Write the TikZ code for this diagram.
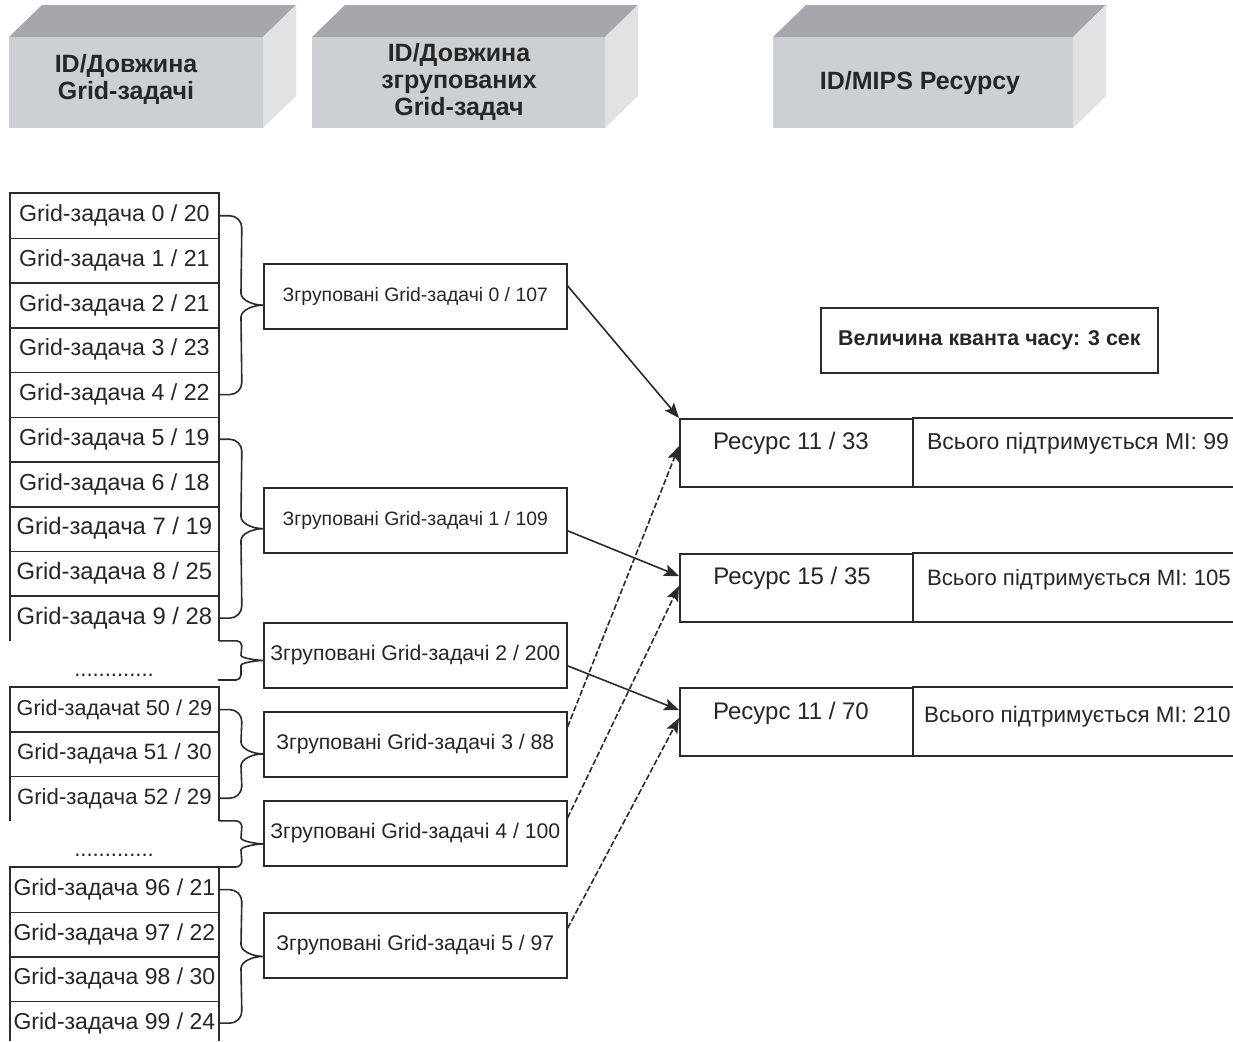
\documentclass[tikz,border=0pt]{standalone}
\usepackage{fontspec}
\setmainfont{Liberation Sans}
\usepackage{graphicx}
\usetikzlibrary{arrows.meta,calc}
\definecolor{ln}{HTML}{2B2B2B}
\definecolor{tx}{HTML}{262626}
\definecolor{topf}{HTML}{A6A7AA}
\definecolor{frontf}{HTML}{CDD0D3}
\definecolor{sidef}{HTML}{E1E2E4}
\newcommand\fs[1]{\fontsize{#1pt}{#1pt}\selectfont}
% brace from #1 (top) to #2 (bottom), tip at #3, radius #4 (px)
\newcommand\gbrace[4]{%
  \draw[conn] (#1) -- ++({23-#4},0) .. controls +({0.55*#4},0) and +(0,{-0.55*#4}) .. ++(#4,#4)
    -- ($(#3)+(-22,{-#4})$) .. controls +(0,{0.6*#4}) and +({-0.8*#4},0) .. (#3)
    .. controls +({-0.8*#4},0) and +(0,{-0.6*#4}) .. ($(#3)+(-22,#4)$)
    -- ($(#2)+(23,{-#4})$) .. controls +(0,{0.55*#4}) and +({0.55*#4},0) .. ($(#2)+({23-#4},0)$) -- (#2);}
\begin{document}
\begin{tikzpicture}[x=0.5pt,y=-0.5pt,
  conn/.style={draw=ln,line width=0.8pt},
  task/.style={inner sep=0pt,minimum width=104pt,minimum height=#1,anchor=north west,text=tx},
  grp/.style={draw=ln,line width=0.8pt,inner sep=0pt,minimum width=151.5pt,minimum height=32.5pt,anchor=north west,text=tx},
  resbox/.style={draw=ln,line width=0.8pt,inner sep=0pt,minimum width=116.5pt,minimum height=34pt,anchor=north west},
  micell/.style={inner sep=0pt,minimum width=160.5pt,minimum height=34pt,anchor=north west},
  hdr/.style={align=center,text=tx,font=\bfseries\fontsize{12.5pt}{13.5pt}\selectfont,inner sep=0pt},
  arr/.style={conn,-{Stealth[length=7.5pt,width=6pt,inset=1.5pt]}},
  dsh/.style={arr,dash pattern=on 3pt off 1.2pt}]
\useasboundingbox (0,0) rectangle (1233,1041);
\fill[white] (0,0) rectangle (1233,1041);

% ---- header 3D boxes ----
\fill[frontf] (9,37) rectangle (263,128);
\fill[topf] (9,37) -- (42,5) -- (296,5) -- (263,37) -- cycle;
\fill[sidef] (263,37) -- (296,5) -- (296,96) -- (263,128) -- cycle;
\fill[frontf] (312,37) rectangle (605,128);
\fill[topf] (312,37) -- (345,5) -- (638,5) -- (605,37) -- cycle;
\fill[sidef] (605,37) -- (638,5) -- (638,96) -- (605,128) -- cycle;
\fill[frontf] (773,37) rectangle (1073,128);
\fill[topf] (773,37) -- (806,5) -- (1106,5) -- (1073,37) -- cycle;
\fill[sidef] (1073,37) -- (1106,5) -- (1106,96) -- (1073,128) -- cycle;
\node[hdr] (h1) at (126,79) {ID/Довжина\\Grid-задачі};
\node[hdr] (h2) at (459,82) {ID/Довжина\\згрупованих\\Grid-задач};
\node[hdr] (h3) at (920,83) {ID/MIPS Ресурсу};

% ---- task lists ----
\foreach \i/\n/\f in {0/20/11.6,1/21/11.6,2/21/11.6,3/23/11.6,4/22/11.6,5/19/11.6,6/18/11.6,7/19/11.9,8/25/11.9,9/28/11.9}
  \node[task=22.35pt,font=\fs{\f}] (t\i) at (10,{193+44.7*\i}) {Grid-задача \i\ / \n};
\node[task=22.17pt,font=\fs{10.8}] (t50) at (10,687) {Grid-задачаt 50 / 29};
\node[task=22.17pt,font=\fs{11.1}] (t51) at (10,731.33) {Grid-задача 51 / 30};
\node[task=22.17pt,font=\fs{11.1}] (t52) at (10,775.67) {Grid-задача 52 / 29};
\foreach \k/\i/\n in {0/96/21,1/97/22,2/98/30,3/99/24}
  \node[task=22.25pt,font=\fs{11.5}] (t\i) at (10,{867+44.5*\k}) {Grid-задача \i\ / \n};

\draw[conn] (t9.south west) -- (t0.north west) -- (t0.north east) -- (t9.south east);
\foreach \i in {0,...,8} \draw[conn] (t\i.south west) -- (t\i.south east);
\draw[conn] (t52.south west) -- (t50.north west) -- (t50.north east) -- (t52.south east);
\foreach \i in {50,51} \draw[conn] (t\i.south west) -- (t\i.south east);
\coordinate (bot) at (0,1041);
\draw[conn] (t96.west |- bot) -- (t96.north west) -- (t96.north east) -- (t96.east |- bot);
\foreach \i in {96,97,98} \draw[conn] (t\i.south west) -- (t\i.south east);

\node[anchor=base,text=tx,font=\fs{11}] (dotsA) at (114,676) {.............};
\node[anchor=base,text=tx,font=\fs{11}] (dotsB) at (114,856) {.............};

% ---- grouped tasks ----
\node[grp,font=\fs{9.7}] (g0) at (263,263) {Згруповані Grid-задачі 0 / 107};
\node[grp,font=\fs{9.7}] (g1) at (263,487) {Згруповані Grid-задачі 1 / 109};
\node[grp,font=\fs{10.6}] (g2) at (263,622) {Згруповані Grid-задачі 2 / 200};
\node[grp,font=\fs{10.6}] (g3) at (263,711) {Згруповані Grid-задачі 3 / 88};
\node[grp,font=\fs{10.6}] (g4) at (263,800) {Згруповані Grid-задачі 4 / 100};
\node[grp,font=\fs{10.6}] (g5) at (263,912) {Згруповані Grid-задачі 5 / 97};

% ---- braces ----
\coordinate (e2) at (218,680);
\path ($(t0.east)!0.5!(t4.east)$) coordinate (m0);
\path ($(t5.east)!0.5!(t9.east)$) coordinate (m1);
\path ($(t9.south east)!0.5!(e2)$) coordinate (m2);
\path ($(t50.east)!0.5!(t52.east)$) coordinate (m3);
\path ($(t52.south east)!0.5!(t96.north east)$) coordinate (m4);
\path ($(t96.east)!0.5!(t99.east)$) coordinate (m5);
\coordinate (p0) at (g0.west |- m0);
\coordinate (p1) at (g1.west |- m1);
\coordinate (p2) at (g2.west |- m2);
\coordinate (p3) at (g3.west |- m3);
\coordinate (p4) at (g4.west |- m4);
\coordinate (p5) at (g5.west |- m5);
\gbrace{t0.east}{t4.east}{p0}{12}
\gbrace{t5.east}{t9.east}{p1}{12}
\gbrace{t9.south east}{e2}{p2}{5}
\gbrace{t50.east}{t52.east}{p3}{12}
\gbrace{t52.south east}{t96.north east}{p4}{6}
\gbrace{t96.east}{t99.east}{p5}{12}

% ---- time quantum ----
\node[draw=ln,line width=0.8pt,inner sep=0pt,minimum width=168.5pt,minimum height=32.5pt,anchor=north west,text=tx,font=\bfseries\fs{10.7}] (tq) at (820,307) {Величина кванта часу: 3 сек};

% ---- resources ----
\node[resbox] (res1) at (679,418) {};
\node[resbox] (res2) at (679,553) {};
\node[resbox] (res3) at (679,687) {};
\node[micell] (mi1) at (912,418) {};
\node[micell] (mi2) at (912,553) {};
\node[micell] (mi3) at (912,687) {};
\foreach \m in {mi1,mi2,mi3}
  \draw[conn] (\m.north west) -- (\m.north east) (\m.south west) -- (\m.south east);
\node[text=tx,font=\fs{12}] (rl1) at (791,443) {Ресурс 11 / 33};
\node[text=tx,font=\fs{12}] (rl2) at (792,578) {Ресурс 15 / 35};
\node[text=tx,font=\fs{12}] (rl3) at (791,713) {Ресурс 11 / 70};
\node[anchor=west,text=tx,font=\fs{11.5}] (mt1) at (920,444) {Всього підтримується MI: 99};
\node[anchor=west,text=tx,font=\fs{11.1}] (mt2) at (920,580) {Всього підтримується MI: 105};
\node[anchor=west,text=tx,font=\fs{11.2}] (mt3) at (917,717) {Всього підтримується MI: 210};

% ---- arrows ----
\draw[arr] ([yshift=5.25pt]g0.east) -- (res1.north west);
\draw[arr] ([yshift=-5.25pt]g1.east) -- ($(res2.north west)+(0,23)$);
\draw[arr] ([yshift=-5.25pt]g2.east) -- ($(res3.north west)+(0,23)$);
\draw[dsh] ([yshift=8.75pt]g3.east) -- ($(res1.north west)+(0,28)$);
\draw[dsh] ([yshift=7.75pt]g4.east) -- ($(res2.north west)+(0,33)$);
\draw[dsh] ([yshift=8.5pt]g5.east) -- ($(res3.north west)+(0,31)$);
\end{tikzpicture}
\end{document}
